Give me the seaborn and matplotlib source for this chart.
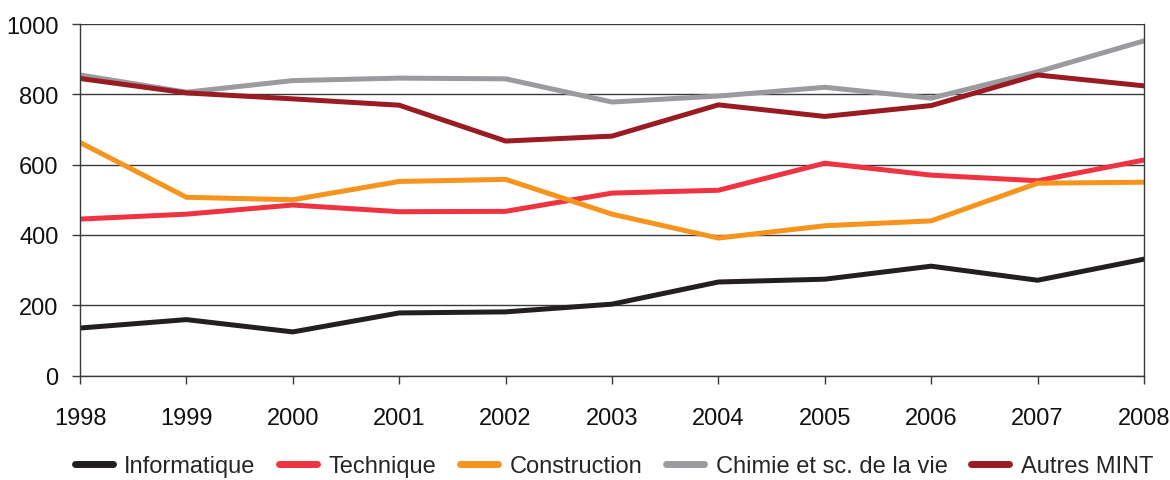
import matplotlib
matplotlib.use("Agg")
import matplotlib.pyplot as plt
import seaborn as sns
import pandas as pd

years = [1998, 1999, 2000, 2001, 2002, 2003, 2004, 2005, 2006, 2007, 2008]
informatique = [135, 159, 124, 178, 181, 203, 266, 274, 311, 271, 331]
technique = [445, 459, 485, 466, 467, 519, 527, 604, 570, 554, 613]
construction = [663, 507, 500, 552, 558, 459, 391, 426, 440, 547, 550]
chimie = [855, 806, 839, 846, 844, 778, 795, 820, 789, 864, 952]
autres = [845, 804, 787, 769, 667, 681, 770, 737, 768, 855, 824]

series_names = ["Informatique", "Technique", "Construction",
                "Chimie et sc. de la vie", "Autres MINT"]
series_values = [informatique, technique, construction, chimie, autres]
colors = ["#231f20", "#ef3340", "#f7941d", "#9a9b9f", "#9b1b22"]
y_ticks = [0, 200, 400, 600, 800, 1000]

rows = []
for name, vals in zip(series_names, series_values):
    for y, v in zip(years, vals):
        rows.append({"Année": y, "Valeur": v, "Série": name})
df = pd.DataFrame(rows)

sns.set_theme(style="white")
plt.rcParams["font.family"] = ["Liberation Sans", "DejaVu Sans"]

W, H = 1170, 481
fig = plt.figure(figsize=(W / 100, H / 100), dpi=100)
ax = fig.add_axes([80 / W, 1 - 376.5 / H, (1144 - 80) / W, (376.5 - 25) / H])

grid_col = "#3a3a3a"
ax.set_axisbelow(True)
ax.yaxis.grid(True, color=grid_col, lw=1.0)

sns.lineplot(data=df, x="Année", y="Valeur", hue="Série", hue_order=series_names,
             palette=colors, linewidth=3.6, ax=ax, legend=True)

ax.set_xlim(years[0], years[-1])
ax.set_ylim(0, 1000)
ax.set_xticks(years)
ax.set_xticklabels([str(y) for y in years])
ax.set_yticks(y_ticks)
ax.set_yticklabels([str(t) for t in y_ticks])
ax.set_xlabel("")
ax.set_ylabel("")
ax.tick_params(axis="x", direction="out", length=6, width=1, color=grid_col,
               labelsize=17, pad=16.5, bottom=True, labelcolor="#111111")
ax.tick_params(axis="y", direction="out", length=6, width=1, color=grid_col,
               labelsize=17, pad=9.5, left=True, labelcolor="#111111")

for side in ["left", "bottom", "right"]:
    ax.spines[side].set_visible(True)
    ax.spines[side].set_color(grid_col)
    ax.spines[side].set_linewidth(1.0)
ax.spines["top"].set_visible(False)

handles, labels = ax.get_legend_handles_labels()
ax.get_legend().remove()
leg = fig.legend(handles, labels, loc="center", bbox_to_anchor=(614 / W, 1 - 467 / H),
                 ncol=5, frameon=False, fontsize=17, handlelength=1.6,
                 handletextpad=0.5, columnspacing=1.0, borderpad=0, borderaxespad=0)
for h in leg.get_lines():
    h.set_linewidth(5)
    h.set_solid_capstyle("round")

fig.savefig("out.png", dpi=100)
